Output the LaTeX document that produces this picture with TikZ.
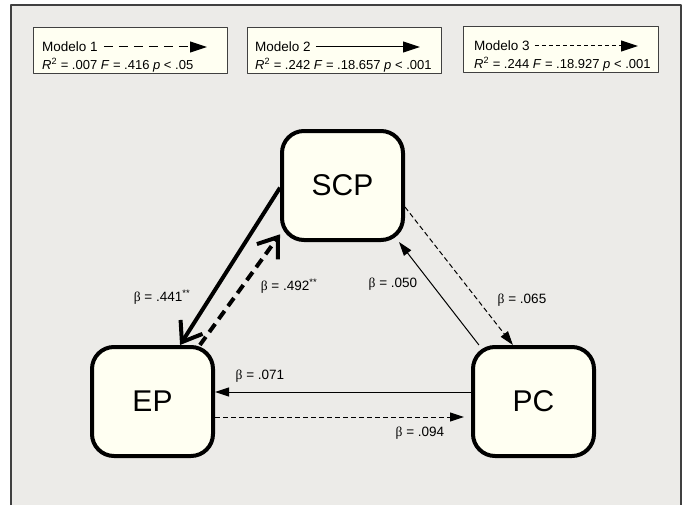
\documentclass[tikz,border=0pt]{standalone}
\usepackage{fontspec}
\setmainfont{Liberation Sans}
\newfontfamily\betafont{Liberation Serif}
\usepackage{tikz}
\usetikzlibrary{arrows.meta}

\definecolor{panel_grey}{RGB}{236,235,232}
\definecolor{frame_grey}{RGB}{64,64,64}
\definecolor{box_cream}{RGB}{255,255,242}

\begin{document}
\begin{tikzpicture}[x=1pt, y=-1pt, line join=round,
        box_style/.style={draw=black, fill=box_cream, line width=4pt, rounded corners=22pt, minimum width=121pt, minimum height=109pt, font=\fontsize{30}{36}\selectfont},
        legend_style/.style={draw=frame_grey, fill=box_cream, line width=1pt, minimum width=194pt, minimum height=45pt},
        legend_text_style/.style={anchor=west, inner sep=2pt, font=\fontsize{13.5}{16}\selectfont},
        legend_fit_style/.style={legend_text_style, font=\fontsize{13}{16}\selectfont},
        beta_style/.style={inner sep=1pt, font=\fontsize{13.5}{16}\selectfont},
        thick_edge_style/.style={draw=black, line width=4pt, -{Straight Barb[length=18pt, width=26pt]}},
        thick_dash_edge_style/.style={thick_edge_style, dash pattern=on 10pt off 6pt},
        edge_style/.style={draw=black, line width=1pt, -{Triangle[length=14pt, width=9pt]}},
        dash_edge_style/.style={edge_style, dash pattern=on 5pt off 3pt},
        legend_edge_style/.style={draw=black, line width=1pt, -{Triangle[length=17pt, width=11pt]}}]

        % panel
        \fill [white] (0,0) rectangle (685,505);
        \fill [panel_grey] (11,5) rectangle (681,505);
        \draw [frame_grey, line width=1.5pt] (11,505) -- (11,5) -- (681,5) -- (681,505);
        \useasboundingbox (0,0) rectangle (685,505);

        % legend
        \node [legend_style](leg1) at (130.5,50.5) {};

        \node [legend_style](leg2) at (344.5,50.5) {};

        \node [legend_style, minimum width=195pt](leg3) at (561,49.5) {};

        \node [legend_text_style](leg1_name) at (40,47) {Modelo 1};

        \node [legend_fit_style](leg1_fit) at (40,65) {\textit{R}\textsuperscript{2} = .007 \textit{F} = .416 \textit{p} < .05};

        \node [legend_text_style](leg2_name) at (253,47) {Modelo 2};

        \node [legend_fit_style](leg2_fit) at (253,65) {\textit{R}\textsuperscript{2} = .242 \textit{F} = .18.657 \textit{p} < .001};

        \node [legend_text_style](leg3_name) at (472,46) {Modelo 3};

        \node [legend_fit_style](leg3_fit) at (472,64) {\textit{R}\textsuperscript{2} = .244 \textit{F} = .18.927 \textit{p} < .001};

        \coordinate (leg1_tip) at (207,47);
        \coordinate (leg2_tip) at (420,47);
        \coordinate (leg3_tip) at (638,46);

        \draw [legend_edge_style, dash pattern=on 9pt off 6pt, shorten <=4pt] (leg1_name.east) -- (leg1_tip);

        \draw [legend_edge_style, shorten <=3pt] (leg2_name.east) -- (leg2_tip);

        \draw [legend_edge_style, dash pattern=on 4pt off 3pt, shorten <=3pt] (leg3_name.east) -- (leg3_tip);

        % model
        \node [box_style](scp) at (342.5,185.5) {SCP};

        \node [box_style](ep) at (152.5,401.5) {EP};

        \node [box_style](pc) at (533.5,401.5) {PC};

        \draw [thick_edge_style] (scp.182) -- (ep.64);

        \draw [thick_dash_edge_style] (ep.50) -- (scp.218);

        \draw [edge_style] (pc.134) -- (scp.315);

        \draw [dash_edge_style] (scp.341) -- (pc.110);

        \draw [edge_style] ([yshift=9.5pt]pc.west) -- ([yshift=9.5pt]ep.east);

        \draw [dash_edge_style, shorten >=7pt] ([yshift=-15.5pt]ep.east) -- ([yshift=-15.5pt]pc.west);

        \node [beta_style](b441) at (162,297) {{\betafont β} = .441\textsuperscript{**}};

        \node [beta_style](b492) at (289,286) {{\betafont β} = .492\textsuperscript{**}};

        \node [beta_style](b050) at (393,284) {{\betafont β} = .050};

        \node [beta_style](b065) at (522,300) {{\betafont β} = .065};

        \node [beta_style](b071) at (260,376) {{\betafont β} = .071};

        \node [beta_style](b094) at (420,433) {{\betafont β} = .094};

\end{tikzpicture}
\end{document}
